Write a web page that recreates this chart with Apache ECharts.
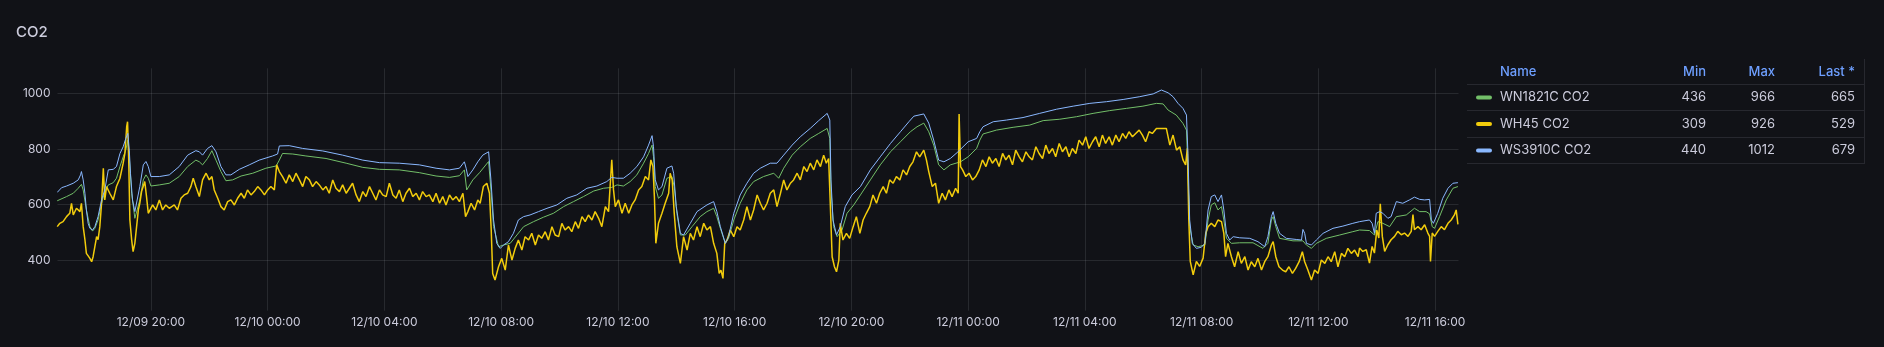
<!DOCTYPE html>
<html><head><meta charset="utf-8">
<script src="https://cdn.jsdelivr.net/npm/echarts@6/dist/echarts.min.js"></script>
<style>html,body{margin:0;padding:0;background:#111217;}#c{width:1884px;height:347px;}</style>
</head><body><div id="c"></div>
<script>
// ---- data ----
const title = 'CO2';
const seriesNames = ['WN1821C CO2', 'WH45 CO2', 'WS3910C CO2'];
const legendHeaders = ['Name', 'Min', 'Max', 'Last *'];
const legendMin = [436, 309, 440];
const legendMax = [966, 926, 1012];
const legendLast = [665, 529, 679];
// time range in hours since 12/09 00:00
const startHour = 16.8;
const endHour = 64.8;
const yTicks = [400, 600, 800, 1000];

const greenT = [16.79,17.11,17.34,17.51,17.62,17.68,17.79,17.91,18.00,18.08,18.19,18.31,18.42,18.54,18.71,18.82,18.94,19.05,19.14,19.21,19.26,19.34,19.45,19.51,19.62,19.74,19.83,19.91,20.00,20.29,20.63,20.97,21.26,21.54,21.66,21.77,21.94,22.09,22.23,22.40,22.57,22.80,23.09,23.49,23.94,24.29,24.40,24.51,24.86,25.31,26.00,26.69,27.26,27.83,28.51,29.20,29.77,30.23,30.57,30.74,30.82,31.03,31.26,31.57,31.65,31.74,31.91,32.08,32.31,32.54,32.77,33.11,33.45,33.79,34.14,34.48,34.82,35.17,35.51,35.79,35.97,36.19,36.42,36.65,36.88,37.05,37.17,37.22,37.28,37.39,37.51,37.68,37.85,37.93,38.02,38.14,38.31,38.54,38.82,39.05,39.28,39.39,39.51,39.68,39.79,39.97,40.19,40.42,40.65,40.99,41.34,41.51,41.68,41.97,42.25,42.59,42.88,43.17,43.26,43.30,43.39,43.51,43.68,43.85,44.08,44.31,44.65,44.99,45.34,45.68,46.02,46.25,46.48,46.65,46.82,46.99,47.17,47.39,47.74,48.00,48.29,48.40,48.51,48.97,49.54,50.11,50.57,51.14,51.71,52.28,52.85,53.42,53.99,54.45,54.68,54.85,55.13,55.36,55.48,55.53,55.59,55.71,55.88,56.11,56.22,56.33,56.45,56.56,56.68,56.76,56.85,57.02,57.30,57.76,58.10,58.27,58.39,58.45,58.54,58.67,59.13,59.47,59.59,59.76,59.93,60.27,60.73,61.18,61.41,61.75,61.92,62.04,62.21,62.44,62.67,63.01,63.29,63.47,63.69,63.81,63.90,63.98,64.15,64.38,64.61,64.78];
const greenV = [614,629,641,659,673,653,581,521,505,515,545,605,647,671,679,695,737,772,796,832,772,641,551,557,617,689,707,695,667,671,677,701,737,760,754,743,766,794,760,719,686,689,703,713,731,739,760,784,782,775,766,749,734,727,725,715,703,698,704,725,653,689,715,755,653,521,449,455,461,491,521,539,555,569,593,611,629,649,659,662,671,667,683,707,749,784,814,772,665,623,635,695,701,665,569,491,491,521,557,575,587,557,515,461,479,545,605,653,683,701,713,695,731,778,808,838,856,874,838,653,521,485,509,569,599,635,689,743,790,826,862,880,893,862,814,743,725,743,754,772,802,832,854,868,878,886,902,907,916,928,938,946,954,964,962,940,922,892,868,725,521,455,449,455,545,599,607,581,593,545,479,461,463,463,443,461,545,557,521,479,470,470,455,443,461,479,491,503,509,507,491,539,533,521,557,563,587,575,575,567,521,515,557,617,659,665];

const yellowT = [16.79,16.88,16.99,17.11,17.22,17.28,17.34,17.45,17.57,17.62,17.68,17.74,17.79,17.91,17.97,18.02,18.08,18.14,18.19,18.25,18.31,18.37,18.42,18.48,18.59,18.71,18.82,18.94,19.05,19.11,19.17,19.20,19.24,19.28,19.34,19.39,19.45,19.51,19.57,19.62,19.68,19.74,19.79,19.85,19.91,20.06,20.17,20.29,20.40,20.51,20.63,20.80,20.91,21.03,21.14,21.26,21.37,21.45,21.54,21.66,21.77,21.89,22.00,22.09,22.17,22.29,22.40,22.51,22.63,22.74,22.86,22.97,23.09,23.20,23.31,23.43,23.54,23.66,23.77,23.89,24.00,24.11,24.23,24.31,24.40,24.51,24.63,24.74,24.86,24.97,25.09,25.20,25.31,25.43,25.54,25.66,25.77,25.89,26.00,26.11,26.23,26.34,26.46,26.57,26.69,26.80,26.91,27.03,27.14,27.26,27.37,27.49,27.60,27.71,27.83,27.94,28.06,28.17,28.29,28.40,28.51,28.63,28.74,28.86,28.97,29.09,29.20,29.31,29.43,29.54,29.66,29.77,29.89,30.00,30.11,30.23,30.34,30.46,30.57,30.69,30.78,30.86,30.97,31.09,31.20,31.28,31.39,31.51,31.60,31.66,31.71,31.79,31.91,32.02,32.14,32.25,32.37,32.48,32.59,32.71,32.82,32.94,33.05,33.17,33.28,33.39,33.51,33.62,33.74,33.85,33.97,34.08,34.19,34.31,34.42,34.54,34.65,34.77,34.88,34.99,35.11,35.22,35.34,35.45,35.57,35.68,35.79,35.85,35.91,36.02,36.14,36.25,36.37,36.48,36.59,36.71,36.82,36.94,37.05,37.13,37.20,37.25,37.30,37.39,37.51,37.62,37.74,37.79,37.86,37.93,38.02,38.14,38.25,38.37,38.48,38.59,38.71,38.82,38.94,39.05,39.17,39.28,39.39,39.47,39.53,39.60,39.66,39.74,39.85,39.97,40.08,40.19,40.31,40.42,40.54,40.65,40.77,40.88,40.99,41.11,41.22,41.34,41.45,41.57,41.68,41.79,41.91,42.02,42.14,42.25,42.37,42.48,42.59,42.71,42.82,42.94,43.05,43.14,43.22,43.28,43.34,43.42,43.49,43.57,43.62,43.71,43.83,43.94,44.06,44.17,44.29,44.40,44.51,44.63,44.74,44.86,44.97,45.09,45.20,45.31,45.43,45.54,45.66,45.77,45.89,46.00,46.11,46.23,46.34,46.48,46.57,46.65,46.77,46.88,46.99,47.11,47.22,47.34,47.45,47.57,47.66,47.69,47.74,47.81,47.92,48.03,48.15,48.26,48.38,48.49,48.61,48.72,48.83,48.95,49.06,49.18,49.29,49.40,49.52,49.63,49.75,49.86,49.98,50.09,50.20,50.32,50.43,50.55,50.66,50.77,50.89,51.00,51.12,51.23,51.35,51.46,51.57,51.69,51.80,51.92,52.03,52.14,52.26,52.37,52.49,52.60,52.71,52.83,52.94,53.06,53.17,53.29,53.40,53.51,53.63,53.74,53.86,53.97,54.08,54.20,54.31,54.45,54.79,54.91,55.02,55.14,55.25,55.36,55.45,55.51,55.56,55.61,55.71,55.82,55.93,56.05,56.14,56.22,56.33,56.45,56.56,56.68,56.76,56.82,56.90,57.02,57.13,57.25,57.36,57.48,57.59,57.70,57.82,57.93,58.05,58.16,58.27,58.39,58.45,58.54,58.65,58.77,58.88,58.99,59.11,59.22,59.34,59.45,59.53,59.64,59.76,59.87,59.99,60.10,60.22,60.33,60.44,60.56,60.67,60.79,60.90,61.01,61.13,61.24,61.36,61.41,61.52,61.64,61.75,61.84,61.92,62.00,62.07,62.12,62.19,62.27,62.38,62.49,62.61,62.72,62.84,62.95,63.07,63.18,63.24,63.29,63.41,63.52,63.64,63.75,63.81,63.84,63.90,63.98,64.09,64.21,64.32,64.44,64.55,64.66,64.72,64.78];
const yellowV = [521,533,539,557,569,605,563,587,575,605,521,474,425,407,395,413,449,485,474,521,605,731,617,665,641,617,665,695,749,785,880,898,761,545,474,431,461,521,581,605,647,641,683,629,569,599,581,617,581,599,587,599,581,623,635,641,665,695,665,629,689,713,689,701,653,623,593,581,611,617,599,623,641,623,653,635,647,665,653,635,653,665,653,743,719,701,677,707,683,713,689,665,701,689,665,683,671,653,665,641,689,659,647,671,641,659,677,635,611,647,629,665,641,617,653,635,629,677,635,623,653,611,641,659,629,641,617,647,629,635,611,641,605,629,599,635,617,629,611,641,557,575,605,581,617,605,665,677,641,509,353,329,377,407,365,455,401,443,473,437,485,473,497,455,491,479,503,473,521,491,485,533,509,521,503,539,515,557,539,563,545,575,551,521,593,575,761,653,593,617,569,605,569,599,617,653,665,701,689,761,737,629,461,533,569,605,641,713,689,569,449,389,485,437,497,473,521,485,533,509,521,461,425,353,365,335,461,473,509,485,521,509,545,593,545,581,635,605,581,605,641,653,593,641,689,653,677,689,713,689,737,719,749,725,761,737,778,749,766,593,413,377,359,401,533,473,497,479,521,557,497,545,569,593,635,605,641,665,641,689,677,701,689,725,707,737,754,790,772,796,761,719,665,677,605,641,617,653,629,659,641,926,737,725,701,713,689,701,725,761,737,772,749,766,737,784,761,778,743,796,772,754,790,772,761,808,784,766,814,784,802,772,820,790,808,772,802,784,832,814,844,802,826,844,808,850,820,844,814,850,826,856,838,862,844,856,868,850,826,862,856,874,874,814,850,796,808,761,743,802,545,396,348,396,378,408,497,521,533,521,545,539,497,413,461,413,377,431,389,413,365,395,377,407,365,395,413,455,467,413,377,365,359,377,353,371,395,431,395,365,329,365,353,401,389,413,395,431,377,425,413,443,425,437,413,444,432,438,390,450,426,509,480,603,486,432,456,474,486,504,492,498,486,504,564,510,521,510,528,498,486,396,498,486,504,521,510,533,545,563,581,529];

const blueT = [16.79,16.94,17.11,17.34,17.51,17.59,17.62,17.68,17.74,17.79,17.85,17.91,18.00,18.08,18.19,18.31,18.42,18.54,18.59,18.71,18.82,18.94,19.05,19.14,19.21,19.26,19.30,19.37,19.45,19.51,19.62,19.74,19.83,19.91,20.00,20.29,20.63,20.97,21.26,21.54,21.66,21.77,21.94,22.09,22.23,22.40,22.57,22.74,23.03,23.37,23.71,24.17,24.34,24.40,24.74,25.20,25.89,26.57,27.26,27.83,28.51,29.20,29.77,30.23,30.57,30.74,30.80,30.86,31.03,31.20,31.37,31.57,31.65,31.74,31.85,31.97,32.08,32.25,32.42,32.59,32.77,32.99,33.28,33.57,33.91,34.25,34.59,34.94,35.28,35.62,35.79,35.97,36.19,36.42,36.65,36.88,37.05,37.17,37.22,37.28,37.39,37.51,37.68,37.85,37.91,38.00,38.14,38.25,38.48,38.71,39.05,39.28,39.39,39.51,39.68,39.79,39.97,40.19,40.42,40.65,40.88,41.22,41.45,41.68,41.97,42.25,42.59,42.88,43.17,43.26,43.30,43.37,43.49,43.62,43.79,44.02,44.31,44.65,44.99,45.34,45.68,45.97,46.14,46.48,46.65,46.82,46.99,47.17,47.39,47.62,47.71,48.00,48.29,48.40,48.51,48.86,49.31,49.88,50.45,51.03,51.60,52.17,52.74,53.31,53.88,54.34,54.62,54.85,55.02,55.19,55.36,55.48,55.53,55.59,55.68,55.82,55.99,56.11,56.22,56.33,56.45,56.56,56.68,56.76,56.85,56.96,57.08,57.30,57.65,57.93,58.16,58.27,58.39,58.45,58.54,58.67,58.90,59.24,59.42,59.47,59.53,59.59,59.76,59.93,60.16,60.50,60.84,61.18,61.41,61.75,61.84,61.92,61.98,62.10,62.21,62.38,62.49,62.67,62.89,63.12,63.29,63.47,63.64,63.81,63.87,63.94,64.09,64.26,64.44,64.61,64.78];
const blueV = [644,661,667,677,689,707,719,689,641,581,533,515,509,521,557,617,653,725,731,727,737,784,808,838,856,796,713,617,575,581,665,743,755,737,701,701,707,737,778,794,790,778,802,812,790,737,707,707,727,743,760,775,782,811,812,802,793,778,760,751,749,743,731,725,731,754,731,701,725,754,778,790,689,545,461,443,455,467,497,545,557,563,575,587,599,623,635,659,667,683,698,695,695,713,737,772,814,848,808,689,653,665,731,739,713,593,497,491,533,575,599,611,575,521,461,485,569,635,677,713,731,749,749,778,814,844,874,902,928,904,689,545,491,521,593,635,665,725,772,820,862,898,918,926,893,832,760,754,766,787,796,826,838,862,880,898,904,913,928,943,954,964,970,978,988,998,1012,1002,988,964,946,922,784,545,461,443,447,461,581,629,635,611,635,581,497,473,485,481,479,467,449,485,557,575,533,497,479,475,473,511,497,461,455,473,497,515,523,533,539,545,533,497,569,575,569,551,557,611,605,617,627,619,617,619,545,533,569,623,659,677,679];

const seriesT = [greenT, yellowT, blueT];
const seriesV = [greenV, yellowV, blueV];
const colors = ['#73BF69', '#F2CC0C', '#8AB8FF'];
const widths = [1, 1.5, 1];

// ---- chart ----
const chart = echarts.init(document.getElementById('c'), null, {renderer: 'canvas'});
const textColor = '#ccccdc';
const gridColor = 'rgba(240,250,255,0.10)';
const FONT = 'Inter, "Noto Sans", sans-serif';
const pad = n => (n < 10 ? '0' : '') + n;

const series = seriesNames.map((name, i) => ({
  name, type: 'line', showSymbol: false, symbol: 'none', animation: false,
  lineStyle: {width: widths[i], color: colors[i]}, itemStyle: {color: colors[i]},
  emphasis: {disabled: true},
  data: seriesT[i].map((t, k) => [t / 4, seriesV[i][k]])
}));

const graphics = [];
graphics.push({type: 'text', x: 16, y: 32, style: {text: title, fill: textColor, font: '500 15px ' + FONT, textVerticalAlign: 'middle'}});
const colRight = [null, 1706, 1775, 1855];
const headY = 72, rowY = [97.5, 124, 150.5], lineY = [84.5, 110.5, 137.5, 163.5];
legendHeaders.forEach((h, j) => {
  graphics.push({type: 'text', x: j === 0 ? 1500 : colRight[j], y: headY,
    style: {text: h, fill: '#6E9FFF', font: '500 13px ' + FONT, textAlign: j === 0 ? 'left' : 'right', textVerticalAlign: 'middle'}});
});
lineY.forEach(y => graphics.push({type: 'line', shape: {x1: 1467, y1: y, x2: 1864, y2: y}, style: {stroke: 'rgba(204,204,220,0.12)', lineWidth: 1}}));
graphics.push({type: 'line', shape: {x1: 1864.5, y1: 59, x2: 1864.5, y2: 164}, style: {stroke: 'rgba(204,204,220,0.12)', lineWidth: 1}});
seriesNames.forEach((name, i) => {
  const y = rowY[i];
  graphics.push({type: 'rect', shape: {x: 1476, y: y - 2, width: 16, height: 4, r: 2}, style: {fill: colors[i]}});
  graphics.push({type: 'text', x: 1500, y, style: {text: name, fill: textColor, font: '13px ' + FONT, textVerticalAlign: 'middle'}});
  [legendMin[i], legendMax[i], legendLast[i]].forEach((v, j) => {
    graphics.push({type: 'text', x: colRight[j + 1], y, style: {text: String(v), fill: textColor, font: '13px ' + FONT, textAlign: 'right', textVerticalAlign: 'middle'}});
  });
});

chart.setOption({
  backgroundColor: '#111217',
  animation: false,
  grid: {left: 57.5, right: 1884 - 1458.5, top: 68.3, bottom: 347 - 310.7, containLabel: false},
  xAxis: {
    type: 'value', min: startHour / 4, max: endHour / 4, splitNumber: 12,
    axisLine: {show: false}, axisTick: {show: false},
    splitLine: {show: true, showMinLine: false, showMaxLine: false, lineStyle: {color: gridColor, width: 1}},
    axisLabel: {
      color: textColor, fontSize: 12, fontFamily: FONT, margin: 6, showMinLabel: false, showMaxLabel: false,
      formatter: v => {
        const h = Math.round(v * 4);
        if (Math.abs(v * 4 - h) > 1e-6) return '';
        const day = 9 + Math.floor(h / 24);
        return '12/' + pad(day) + ' ' + pad(h % 24) + ':00';
      }
    }
  },
  yAxis: {
    type: 'value', min: 219, max: 1090, splitNumber: 4,
    axisLine: {show: false}, axisTick: {show: false},
    splitLine: {show: true, showMinLine: false, showMaxLine: false, lineStyle: {color: gridColor, width: 1}},
    axisLabel: {
      color: textColor, fontSize: 12, fontFamily: FONT, margin: 7, showMinLabel: false, showMaxLabel: false,
      formatter: v => (yTicks.indexOf(v) >= 0 ? String(v) : '')
    }
  },
  graphic: graphics,
  series
});
</script></body></html>
